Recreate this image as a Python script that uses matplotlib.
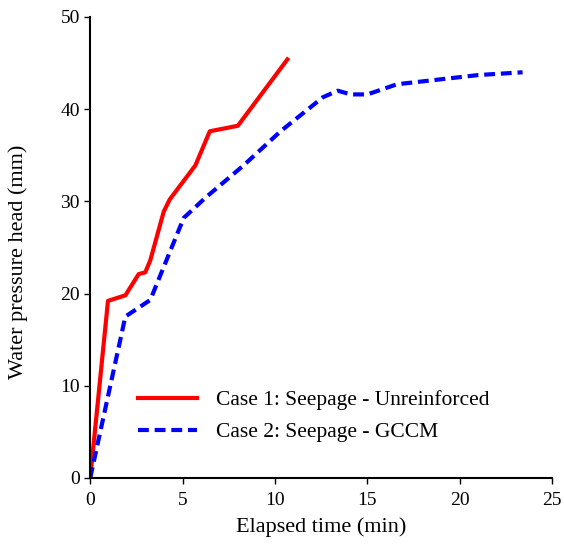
import matplotlib
matplotlib.use("Agg")
import matplotlib.pyplot as plt

plt.rcParams['font.family'] = ['Liberation Serif', 'DejaVu Serif']

# Case 1: unreinforced
t1 = [0, 0.96, 1.9, 2.62, 2.98, 3.25, 3.98, 4.3, 5.69, 6.47, 7.99, 10.67]
h1 = [0, 19.2, 19.8, 22.1, 22.3, 23.6, 28.9, 30.2, 33.9, 37.6, 38.2, 45.4]

# Case 2: GCCM
t2 = [0, 1.9, 3.25, 5.06, 6.24, 8.3, 10.3, 12.6, 13.4, 14.1, 15.0, 16.6, 18.8, 21.0, 23.4]
h2 = [0, 17.5, 19.3, 28.2, 30.4, 33.9, 37.6, 41.3, 42.0, 41.6, 41.6, 42.7, 43.2, 43.7, 44.0]

labels = ['Case 1: Seepage - Unreinforced', 'Case 2: Seepage - GCCM']

fig = plt.figure(figsize=(5.64, 5.48), dpi=100)
ax = fig.add_axes([0.16, 0.128, 0.819, 0.841])

ax.plot(t1, h1, color='#ff0000', lw=3, label=labels[0])
ax.plot(t2, h2, color='#0000ff', lw=3, dashes=(2.6, 1.4), label=labels[1])

ax.set_xlim(0, 25)
ax.set_ylim(0, 50)
ax.set_xticks([0, 5, 10, 15, 20, 25])
ax.set_yticks([0, 10, 20, 30, 40, 50])
ax.spines['top'].set_visible(False)
ax.spines['right'].set_visible(False)
ax.spines['left'].set_linewidth(1.5)
ax.spines['bottom'].set_linewidth(1.5)
ax.tick_params(direction='out', length=4, width=1, labelsize=14)
ax.tick_params(axis='x', pad=6)

ax.set_xlabel('Elapsed time (min)', fontsize=16, labelpad=6)
ax.set_ylabel('Water pressure head (mm)', fontsize=16)
ax.yaxis.set_label_coords(-0.135, 0.468)

ax.legend(loc='upper left', bbox_to_anchor=(0.104, 0.19), frameon=False,
          borderaxespad=0, borderpad=0,
          fontsize=15.5, handlelength=2.75, handletextpad=0.85, labelspacing=0.55)

fig.savefig('out.png', dpi=100)
